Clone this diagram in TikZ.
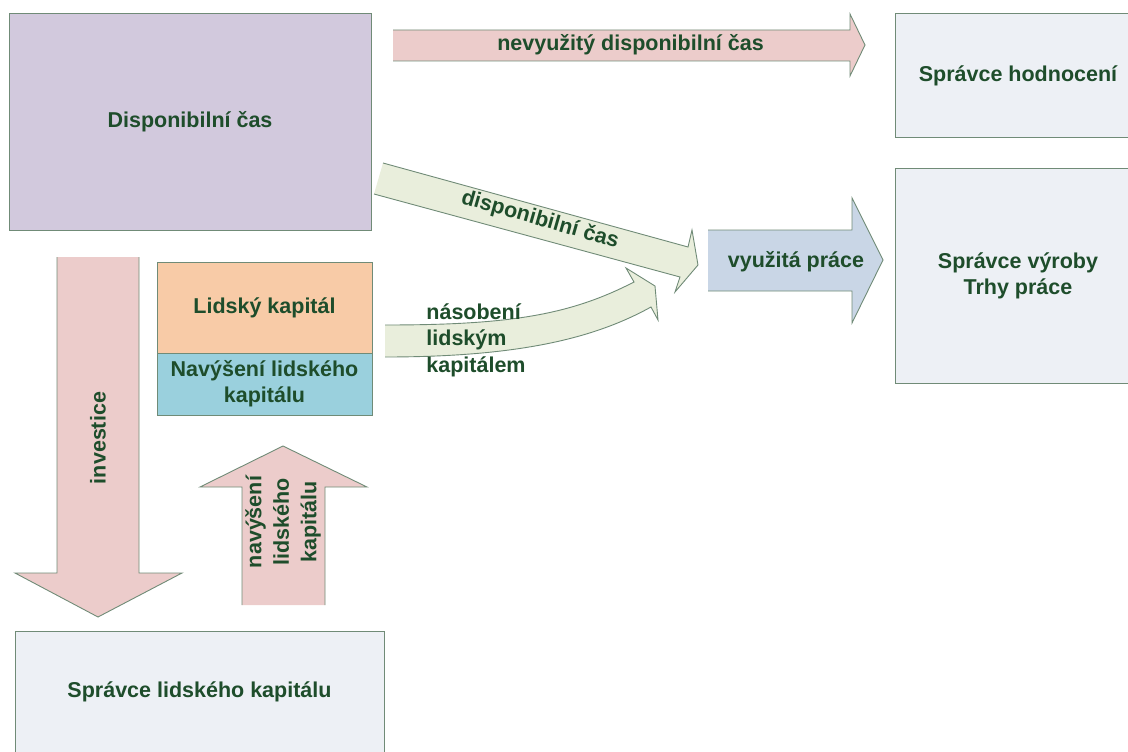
\documentclass[tikz,border=0pt]{standalone}
\usepackage{fontspec}
\setmainfont{Liberation Sans}
\definecolor{edge}{HTML}{708B77}
\definecolor{txt}{HTML}{1E4D2B}
\definecolor{lav}{HTML}{D2C9DD}
\definecolor{pale}{HTML}{EDF0F5}
\definecolor{peach}{HTML}{F8CBA7}
\definecolor{teal}{HTML}{9AD0DD}
\definecolor{rose}{HTML}{ECCCCB}
\definecolor{sage}{HTML}{E9EEDC}
\definecolor{steel}{HTML}{C9D6E6}
% block arrow: filled outline, edges stroked except the open tail
\newcommand\blockarrow[2]{\fill[#1] #2 -- cycle; \draw[arrowline] #2;}
\begin{document}
\begin{tikzpicture}[x=1pt,y=-1pt,
  font=\bfseries\fontsize{21.5}{26}\selectfont,
  box/.style={draw=edge, line width=1pt, inner sep=0pt, outer sep=0pt, text=txt, align=center},
  lbl/.style={text=txt, align=center, inner sep=0pt},
  arrowline/.style={draw=edge, line width=0.9pt, line join=miter}]
\useasboundingbox (0,0) rectangle (1128,752);

% boxes
\node[box, fill=lav, minimum width=362pt, minimum height=216pt] (disp) at (190,122) {Disponibilní čas};
\node[box, fill=pale, minimum width=246pt, minimum height=123pt] (hodn) at (1018,75.5) {Správce hodnocení};
\node[box, fill=pale, minimum width=246pt, minimum height=215pt] (vyroby) at (1018,275.5) {Správce výroby\\Trhy práce};
\node[box, fill=pale, minimum width=369pt, minimum height=122pt] (lidsky) at (199.5,692) {Správce lidského kapitálu};
\node[box, fill=peach, minimum width=215pt, minimum height=91pt] (kap) at (264.5,307.5) {Lidský kapitál};
\node[box, fill=teal, minimum width=215pt, minimum height=62pt] (navys) at (264.5,384) {Navýšení lidského\\kapitálu};

% block arrows
\blockarrow{rose}{(393,30) -- (850,30) -- (850,14) -- (865,45) -- (850,76) -- (850,61) -- (393,61)}
\blockarrow{sage}{(383,163) -- (688,247) -- (692,230) -- (698,265) -- (675,292) -- (680,277) -- (374,194)}
\blockarrow{sage}{(385,325) .. controls (510,325) and (570,315) .. (634,282) -- (626,268) -- (655,286) -- (658,320) -- (651,307) .. controls (595,338) and (520,357) .. (385,357)}
\blockarrow{steel}{(708,230) -- (852,230) -- (852,198) -- (883,260) -- (852,323) -- (852,291) -- (708,291)}
\blockarrow{rose}{(57,257) -- (57,573) -- (15,573) -- (98,617) -- (182,573) -- (139,573) -- (139,257)}
\blockarrow{rose}{(242,605) -- (242,487) -- (200,487) -- (283,446) -- (367,487) -- (325,487) -- (325,605)}

% arrow labels
\node[lbl] (tnevy) at (630.5,45) {nevyužitý disponibilní čas};
\node[lbl, rotate=-16] (tdisp) at (540,220) {disponibilní čas};
\node[lbl, align=left, font=\bfseries\fontsize{21.5}{26.5}\selectfont] (tnas) at (476,340) {násobení\\lidským\\kapitálem};
\node[lbl] (tvyuz) at (796,262) {využitá práce};
\node[lbl, rotate=90] (tinv) at (98,438) {investice};
\node[lbl, rotate=90, font=\bfseries\fontsize{21.5}{27.5}\selectfont] (tnav) at (283,522) {navýšení\\lidského\\kapitálu};
\end{tikzpicture}
\end{document}
